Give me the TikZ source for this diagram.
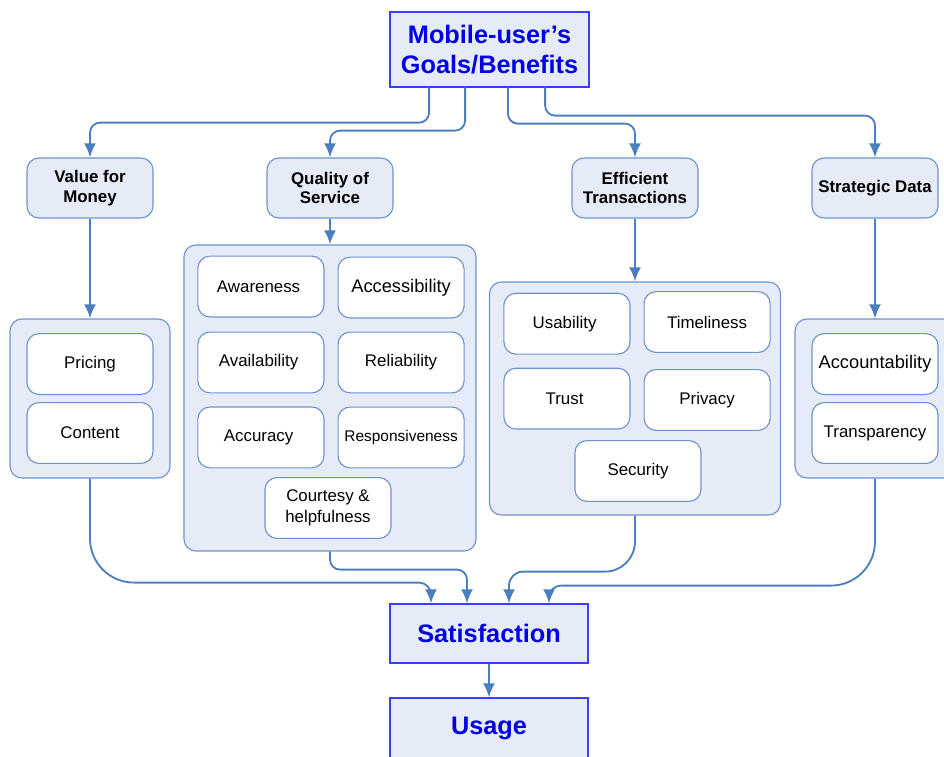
\documentclass[tikz,border=0pt]{standalone}
\usepackage{fontspec}
\setmainfont{Liberation Sans}
\usetikzlibrary{matrix,positioning,arrows.meta}
\definecolor{boxfill}{RGB}{230,236,247}
\definecolor{edgeblue}{RGB}{110,146,206}
\definecolor{linkblue}{RGB}{74,126,190}
\definecolor{goalblue}{RGB}{60,60,255}
\definecolor{goaltext}{RGB}{0,0,230}
\tikzset{
goalbox/.style={
  draw=goalblue, fill=boxfill, line width=0.9pt,
  minimum width=4.975cm, text=goaltext, align=center,
  font=\fontsize{18}{21}\selectfont\bfseries
  },
headbox/.style={
  draw=edgeblue, fill=boxfill, line width=0.8pt, rounded corners=0.3cm,
  minimum width=3.15cm, minimum height=1.5cm, align=center,
  font=\fontsize{12}{14}\selectfont\bfseries
  },
grpbox/.style={
  draw=edgeblue, fill=boxfill, line width=0.8pt, rounded corners=0.3cm
  },
itembox/.style={
  draw=edgeblue, fill=white, line width=0.8pt, rounded corners=0.3cm,
  minimum width=3.15cm, minimum height=1.52cm, align=center,
  font=\fontsize{12}{15}\selectfont
  },
itemmat/.style={
  matrix of nodes,
  nodes={itembox},
  column sep=0.325cm,
  row sep=0.325cm
  },
link/.style={-{Latex[length=10pt,width=8.5pt]}, draw=linkblue, line width=1.3pt}
}

\begin{document}
\begin{tikzpicture}[x=0.025cm, y=-0.025cm]
\clip (0,0) rectangle (944,756);

\node[goalbox, minimum height=1.875cm] (goals) at (489.5,49.5)
  {Mobile-user’s\\Goals/Benefits};

\node[headbox] (vfm) at (90,188) {Value for\\Money};
\node[headbox] (qos) at (330,188) {Quality of\\Service};
\node[headbox] (eff) at (635,188) {Efficient\\Transactions};
\node[headbox] (strat) at (875,188) {Strategic Data};

% group panels
\node[grpbox, minimum width=4cm, minimum height=3.975cm] (grp1) at (90,398.5) {};
\node[grpbox, minimum width=7.3cm, minimum height=7.65cm] (grp2) at (330,398) {};
\node[grpbox, minimum width=7.275cm, minimum height=5.825cm] (grp3) at (635,398.5) {};
\node[grpbox, minimum width=4cm, minimum height=3.975cm] (grp4) at (875,398.5) {};

\matrix[itemmat, row sep=0.175cm]
at (90,398.5)
(pricemat)
{
Pricing\\
Content\\
};
\matrix[itemmat]
at (331,362)
(qosmat)
{
Awareness & |[font=\fontsize{13}{15}\selectfont]| Accessibility\\
Availability & Reliability\\
Accuracy & |[font=\fontsize{11}{13}\selectfont]| Responsiveness\\
};
\node[itembox] (courtesy) at (328,508) {Courtesy \&\\helpfulness};
\matrix[itemmat]
at (637,361)
(effmat)
{
Usability & Timeliness\\
Trust & Privacy\\
};
\node[itembox] (security) at (638,471) {Security};
\matrix[itemmat, row sep=0.175cm]
at (875,398.5)
(datamat)
{
|[font=\fontsize{13}{15}\selectfont]| Accountability\\
Transparency\\
};

\node[goalbox, minimum width=4.95cm, minimum height=1.475cm] (sat) at (489,633.5) {Satisfaction};
\node[goalbox, minimum width=4.95cm, minimum height=1.5cm] (usage) at (489,728) {Usage};

\begin{scope}[rounded corners=0.25cm]
\draw[link] ([xshift=-1.51cm]goals.south) -- ++(0,35) -| (vfm);
\draw[link] ([xshift=-0.61cm]goals.south) -- ++(0,43) -| (qos);
\draw[link] ([xshift=0.46cm]goals.south) -- ++(0,36) -| (eff);
\draw[link] ([xshift=1.39cm]goals.south) -- ++(0,28) -| (strat);
\end{scope}

\draw[link] (vfm) -- (grp1);
\draw[link] (qos) -- (grp2);
\draw[link] (eff) -- (grp3);
\draw[link] (strat) -- (grp4);

\draw[link] (grp1.south) [rounded corners=1.1cm] -- ++(0,104) -- ++(150,0)
  [rounded corners=0.3cm] -| ([xshift=-1.45cm]sat.north);
\draw[link, rounded corners=0.25cm] (grp2.south) -- ++(0,18)
  -| ([xshift=-0.55cm]sat.north);
\draw[link] (grp3.south) [rounded corners=0.75cm] -- ++(0,56) -- ++(-75,0)
  [rounded corners=0.35cm] -| ([xshift=0.5cm]sat.north);
\draw[link] (grp4.south) [rounded corners=1.1cm] -- ++(0,107) -- ++(-150,0)
  [rounded corners=0.3cm] -| ([xshift=1.5cm]sat.north);

\draw[link] (sat) -- (usage);
\end{tikzpicture}
\end{document}
